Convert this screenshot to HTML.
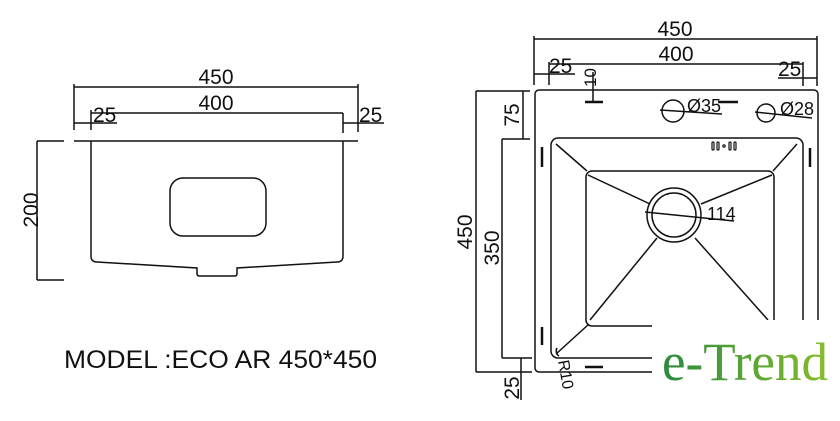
<!DOCTYPE html>
<html><head><meta charset="utf-8"><style>
html,body{margin:0;padding:0;background:#fff;}
svg{display:block;}
text{font-family:"Liberation Sans",sans-serif;fill:#111;}
</style></head><body>
<svg width="840" height="421" viewBox="0 0 840 421" xmlns="http://www.w3.org/2000/svg">
<g stroke="#111" stroke-width="1.5" fill="none">
<line x1="74" y1="87" x2="358" y2="87"/>
<line x1="74" y1="84" x2="74" y2="130"/>
<line x1="358" y1="84" x2="358" y2="132"/>
<line x1="91" y1="113" x2="343" y2="113"/>
<line x1="91" y1="110" x2="91" y2="130"/>
<line x1="343" y1="113" x2="343" y2="133"/>
<line x1="74" y1="123" x2="117" y2="123"/>
<line x1="343" y1="123" x2="384" y2="123"/>
<line x1="74" y1="141" x2="358" y2="141"/>
<path d="M91 141 V256 Q91 262 97 262 L197 268 V274 Q197 276 200 276 H234 Q237 276 237 274 V268 L337 262 Q343 262 343 256 V141"/>
<rect x="170" y="178" width="96" height="58" rx="13"/>
<line x1="37" y1="141" x2="37" y2="280"/>
<line x1="37" y1="141" x2="64" y2="141"/>
<line x1="37" y1="280" x2="64" y2="280"/>

<line x1="534" y1="39" x2="817" y2="39"/>
<line x1="534" y1="36" x2="534" y2="85"/>
<line x1="817" y1="36" x2="817" y2="86"/>
<line x1="549" y1="64" x2="803" y2="64"/>
<line x1="549" y1="62" x2="549" y2="85"/>
<line x1="803" y1="62" x2="803" y2="86"/>
<line x1="534" y1="74" x2="575" y2="74"/>
<line x1="778" y1="78" x2="817" y2="78"/>
<line x1="593" y1="72" x2="593" y2="102"/>
<line x1="585" y1="102" x2="603" y2="102" stroke-width="2.5"/>
<line x1="476" y1="91" x2="476" y2="372"/>
<line x1="476" y1="91" x2="530" y2="91"/>
<line x1="476" y1="372" x2="532" y2="372"/>
<line x1="523" y1="91" x2="523" y2="139"/>
<line x1="502" y1="139" x2="530" y2="139"/>
<line x1="502" y1="139" x2="502" y2="358"/>
<line x1="502" y1="358" x2="532" y2="358"/>
<line x1="521" y1="358" x2="521" y2="400"/>

<rect x="535" y="90" width="283" height="282" rx="4"/>
<rect x="551" y="138" width="252" height="220" rx="7"/>
<rect x="586" y="171" width="188" height="155" rx="6"/>
<line x1="556" y1="144" x2="587" y2="171"/>
<line x1="797" y1="144" x2="773" y2="171"/>
<line x1="556" y1="354" x2="589" y2="324"/>
<line x1="588" y1="175" x2="650" y2="204"/>
<line x1="772" y1="175" x2="701" y2="204"/>
<line x1="590" y1="320" x2="657" y2="238"/>
<line x1="768" y1="320" x2="695" y2="238"/>
<circle cx="674" cy="215" r="27"/>
<circle cx="674" cy="215" r="22"/>
<line x1="645" y1="212" x2="734" y2="221"/>
<circle cx="673" cy="111" r="11"/>
<line x1="660" y1="110" x2="722" y2="114"/>
<line x1="718" y1="102" x2="738" y2="102" stroke-width="2.5"/>
<circle cx="766" cy="113" r="9"/>
<line x1="755" y1="112" x2="812" y2="118"/>
<g stroke-width="1.2">
<rect x="712" y="142" width="2" height="8" rx="1"/>
<rect x="717" y="142" width="2" height="8" rx="1"/>
<circle cx="724" cy="146" r="1.2"/>
<rect x="729" y="142" width="2" height="8" rx="1"/>
<rect x="734" y="142" width="2" height="8" rx="1"/>
</g>
<g stroke-width="2.5">
<line x1="542" y1="147" x2="542" y2="167"/>
<line x1="810" y1="148" x2="810" y2="167"/>
<line x1="542" y1="327" x2="542" y2="345"/>
<line x1="585" y1="367" x2="603" y2="367"/>
</g>
<path d="M557 348 a6 6 0 0 0 2 8"/>
</g>

<g font-size="21">
<text x="216" y="84" text-anchor="middle">450</text>
<text x="216" y="110" text-anchor="middle">400</text>
<text x="93" y="122">25</text>
<text x="359" y="122">25</text>
<text transform="translate(38 210) rotate(-90)" text-anchor="middle">200</text>
<text x="675" y="36" text-anchor="middle">450</text>
<text x="676" y="61" text-anchor="middle">400</text>
<text x="549" y="73">25</text>
<text x="778" y="76">25</text>
<text font-size="17" transform="translate(596 87) rotate(-90)">10</text>
<text transform="translate(519 115) rotate(-90)" text-anchor="middle">75</text>
<text transform="translate(472 232) rotate(-90)" text-anchor="middle">450</text>
<text transform="translate(499 248) rotate(-90)" text-anchor="middle">350</text>
<text transform="translate(519 388) rotate(-90)" text-anchor="middle">25</text>
<text x="687" y="112" font-size="18">Ø35</text>
<text x="780" y="115" font-size="18">Ø28</text>
<text x="707" y="220" font-size="18">114</text>
<text font-size="16" transform="translate(558 361) rotate(80)">R10</text>
<text x="64" y="368" font-size="25" textLength="313" lengthAdjust="spacingAndGlyphs">MODEL :ECO AR 450*450</text>
</g>

<defs><linearGradient id="g" x1="0" x2="1"><stop offset="0" stop-color="#2a8a3c"/><stop offset="1" stop-color="#86bd2a"/></linearGradient></defs>
<rect x="652" y="320" width="188" height="101" fill="#fff"/>
<text x="662" y="380" textLength="166" lengthAdjust="spacingAndGlyphs" style="font-family:'Liberation Serif',serif;font-size:54px;fill:url(#g)">e-Trend</text>
</svg>
</body></html>
